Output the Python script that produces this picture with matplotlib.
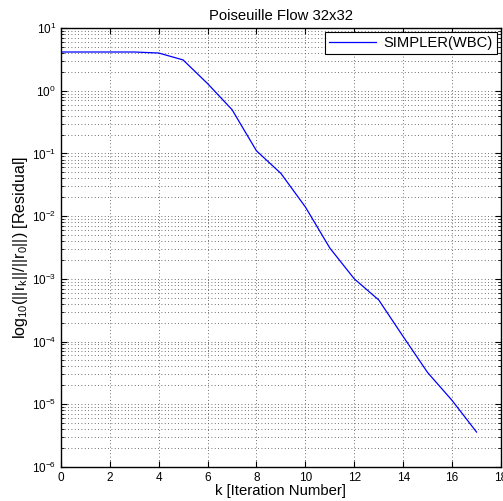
import matplotlib
matplotlib.use('Agg')
import matplotlib.pyplot as plt
import numpy as np

plt.rcParams['font.family'] = ['Liberation Sans', 'DejaVu Sans']
plt.rcParams['mathtext.fontset'] = 'custom'
plt.rcParams['mathtext.rm'] = 'Liberation Sans'
plt.rcParams['mathtext.it'] = 'Liberation Sans'
plt.rcParams['mathtext.default'] = 'regular'

# residual history
k = [0, 1, 2, 3, 4, 5, 6, 7, 8, 9, 10, 11, 12, 13, 14, 15, 16, 17]
residual = [4.15, 4.15, 4.15, 4.15, 4.0, 3.1, 1.3, 0.5, 0.11, 0.048, 0.014,
            0.0031, 0.001, 4.6e-4, 1.2e-4, 3.2e-5, 1.15e-5, 3.6e-6]

fig = plt.figure(figsize=(5.03, 5.01), dpi=100)
ax = fig.add_axes([0.121, 0.068, 0.875, 0.876])

ax.semilogy(k, residual, color='#0000ff', linewidth=0.9, label='SIMPLER(WBC)')

ax.set_xlim(0, 18)
ax.set_ylim(1e-6, 1e1)
ax.set_xticks(np.arange(0, 19, 2))
ax.set_yticks([10.0 ** e for e in range(-6, 2)])

ax.grid(True, which='major', linestyle=(0, (1, 3)), color='#444444', linewidth=0.6)
ax.grid(True, which='minor', axis='y', linestyle=(0, (1, 3)), color='#444444', linewidth=0.6)
ax.tick_params(which='both', direction='in', top=True, right=True, labelsize=8.5)
ax.tick_params(which='major', length=4)
ax.tick_params(which='minor', length=2)
for s in ax.spines.values():
    s.set_linewidth(1.0)

ax.set_title('Poiseuille Flow 32x32', fontsize=10.7, pad=6)
ax.set_xlabel('k [Iteration Number]', fontsize=10.7, labelpad=0)
ax.set_ylabel(r'log$_{10}$(||r$_k$||/||r$_0$||) [Residual]', fontsize=11.5, labelpad=1)

leg = ax.legend(loc='upper right', fontsize=10.6, fancybox=False, framealpha=1,
                edgecolor='black', borderaxespad=0.3, handlelength=3.2,
                borderpad=0.25, handletextpad=0.5)
leg.get_frame().set_linewidth(0.8)

fig.savefig('out.png', dpi=100)
